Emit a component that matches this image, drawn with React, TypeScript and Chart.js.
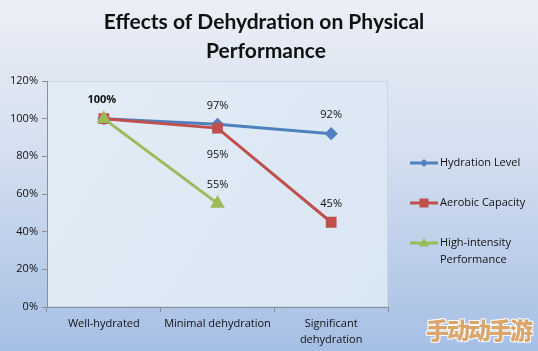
import React, { useEffect, useRef } from "react";
import { Chart, registerables } from "chart.js";

Chart.register(...registerables);

const categories: (string | string[])[] = ["Well-hydrated", "Minimal dehydration", ["Significant", "dehydration"]];
const hydrationLevel = [100, 97, 92];
const aerobicCapacity = [100, 95, 45];
const highIntensity: (number | null)[] = [100, 55, null];
const seriesNames = ["Hydration Level", "Aerobic Capacity", ["High-intensity", "Performance"]];
const titleLines = ["Effects of Dehydration on Physical", "Performance"];
const yTicks = [0, 20, 40, 60, 80, 100, 120];

const TFONT = "Lato, 'Open Sans', sans-serif";
const FONT = "'Open Sans', sans-serif";
const BLUE = "#4f81bd";
const RED = "#c0504d";
const GREEN = "#9bbb59";

// label placement per dataset/point: "a" above, "b" below, "" none
const labelPlacement = [
  ["a", "a", "a"],
  ["", "b", "a"],
  ["", "a", ""],
];

function marker(ctx: CanvasRenderingContext2D, style: string, x: number, y: number, r: number, color: string) {
  ctx.save();
  ctx.fillStyle = color;
  ctx.beginPath();
  if (style === "rectRot") {
    ctx.moveTo(x, y - r);
    ctx.lineTo(x + r, y);
    ctx.lineTo(x, y + r);
    ctx.lineTo(x - r, y);
  } else if (style === "rect") {
    ctx.rect(x - r, y - r, 2 * r, 2 * r);
  } else {
    ctx.moveTo(x, y - r);
    ctx.lineTo(x + r, y + r * 0.7);
    ctx.lineTo(x - r, y + r * 0.7);
  }
  ctx.closePath();
  ctx.fill();
  ctx.restore();
}

const bgPlugin = {
  id: "bgPlugin",
  beforeDraw(chart: any) {
    const { ctx, width, height, chartArea } = chart;
    ctx.save();
    const g = ctx.createLinearGradient(0, 0, 0, height);
    g.addColorStop(0, "#ebeff6");
    g.addColorStop(0.45, "#d3deef");
    g.addColorStop(1, "#a6bfe5");
    ctx.fillStyle = g;
    ctx.fillRect(0, 0, width, height);
    const g2 = ctx.createLinearGradient(chartArea.left, chartArea.top, chartArea.right, chartArea.bottom);
    g2.addColorStop(0, "#e2ecf6");
    g2.addColorStop(1, "#d9e6f3");
    ctx.fillStyle = g2;
    ctx.fillRect(chartArea.left, chartArea.top, chartArea.right - chartArea.left, chartArea.bottom - chartArea.top);
    ctx.strokeStyle = "#c9d6e6";
    ctx.lineWidth = 1;
    ctx.strokeRect(chartArea.left + 0.5, chartArea.top + 0.5, chartArea.right - chartArea.left - 1, chartArea.bottom - chartArea.top - 1);
    ctx.restore();
  },
};

const decoPlugin = {
  id: "decoPlugin",
  afterDatasetsDraw(chart: any) {
    const { ctx } = chart;
    ctx.save();
    ctx.fillStyle = "#111";
    ctx.font = `bold 21px ${TFONT}`;
    ctx.textAlign = "center";
    ctx.textBaseline = "middle";
    ctx.fillText(titleLines[0], 264, 22);
    ctx.fillText(titleLines[1], 266, 51);

    chart.data.datasets.forEach((ds: any, di: number) => {
      const meta = chart.getDatasetMeta(di);
      meta.data.forEach((pt: any, i: number) => {
        const pos = labelPlacement[di][i];
        const v = ds.data[i];
        if (!pos || v == null) return;
        const y = pos === "a" ? pt.y - 18.5 : pt.y + 27;
        ctx.font = di === 0 && i === 0 ? `bold 11px ${FONT}` : `11px ${FONT}`;
        ctx.fillStyle = "#111";
        ctx.fillText(v + "%", pt.x - (i === 0 ? 2 : 0), y);
      });
    });

    const items = [
      { color: BLUE, style: "rectRot", r: 4, ys: [163] },
      { color: RED, style: "rect", r: 4.5, ys: [203] },
      { color: GREEN, style: "triangle", r: 5, ys: [243, 260] },
    ];
    ctx.textAlign = "left";
    ctx.font = `11px ${FONT}`;
    items.forEach((it, k) => {
      const y = it.ys[0];
      ctx.strokeStyle = it.color;
      ctx.lineWidth = 3;
      ctx.beginPath();
      ctx.moveTo(410, y);
      ctx.lineTo(438, y);
      ctx.stroke();
      marker(ctx, it.style, 424, y, it.r, it.color);
      ctx.fillStyle = "#111";
      const name = seriesNames[k];
      const lines = Array.isArray(name) ? name : [name];
      lines.forEach((ln, j) => ctx.fillText(ln, 440, it.ys[j]));
    });
    ctx.restore();
  },
};

export default function App() {
  const ref = useRef<HTMLCanvasElement>(null);
  useEffect(() => {
    document.body.style.margin = "0";
    const mk = (label: any, data: any[], color: string, style: string, r: number, order: number) => ({
      label,
      data,
      order,
      borderColor: color,
      backgroundColor: color,
      borderWidth: 3,
      pointStyle: style,
      pointRadius: r,
      pointHoverRadius: r,
      pointBorderColor: color,
      pointBackgroundColor: color,
      tension: 0,
      spanGaps: false,
    });
    const chart = new Chart(ref.current!, {
      type: "line",
      data: {
        labels: categories as any,
        datasets: [
          mk(seriesNames[0], hydrationLevel, BLUE, "rectRot", 4.5, 2),
          mk(seriesNames[1], aerobicCapacity, RED, "rect", 5.5, 1),
          mk(seriesNames[2], highIntensity, GREEN, "triangle", 5.5, 0),
        ],
      },
      options: {
        animation: false,
        responsive: false,
        events: [],
        layout: { padding: { top: 81, right: 150, left: 0, bottom: 0 } },
        plugins: { legend: { display: false }, title: { display: false }, tooltip: { enabled: false } },
        scales: {
          x: {
            offset: true,
            grid: { display: true, drawOnChartArea: false, offset: true, tickLength: 5, color: "#8a8f96" },
            border: { color: "#8a8f96", width: 1 },
            ticks: { color: "#111", font: { family: FONT, size: 11, lineHeight: 1.45 }, padding: 4, maxRotation: 0, autoSkip: false },
            afterFit: (s: any) => { s.height = 44; },
          },
          y: {
            min: 0,
            max: 120,
            afterBuildTicks: (s: any) => { s.ticks = yTicks.map((v) => ({ value: v })); },
            grid: { display: true, drawOnChartArea: false, tickLength: 5, color: "#8a8f96" },
            border: { color: "#8a8f96", width: 1 },
            ticks: { color: "#111", font: { family: FONT, size: 11 }, padding: 4, callback: (v: any) => v + "%" },
            afterFit: (s: any) => { s.width = 47; },
          },
        },
      },
      plugins: [bgPlugin, decoPlugin],
    });
    return () => chart.destroy();
  }, []);
  return (
    <div style={{ position: "relative", width: 538, height: 351 }}>
      <canvas ref={ref} width={538} height={351} style={{ display: "block" }} />
      <div
        style={{
          position: "absolute",
          left: 426,
          top: 312,
          fontFamily: "'Noto Sans CJK SC', sans-serif",
          fontWeight: 900,
          fontSize: 23,
          letterSpacing: -2,
          color: "#dfa35f",
          textShadow: "1px 1px 0 #fff, -1px -1px 0 #fff, 1px -1px 0 #fff, -1px 1px 0 #fff",
          opacity: 0.9,
        }}
      >
        手动动手游
      </div>
    </div>
  );
}
